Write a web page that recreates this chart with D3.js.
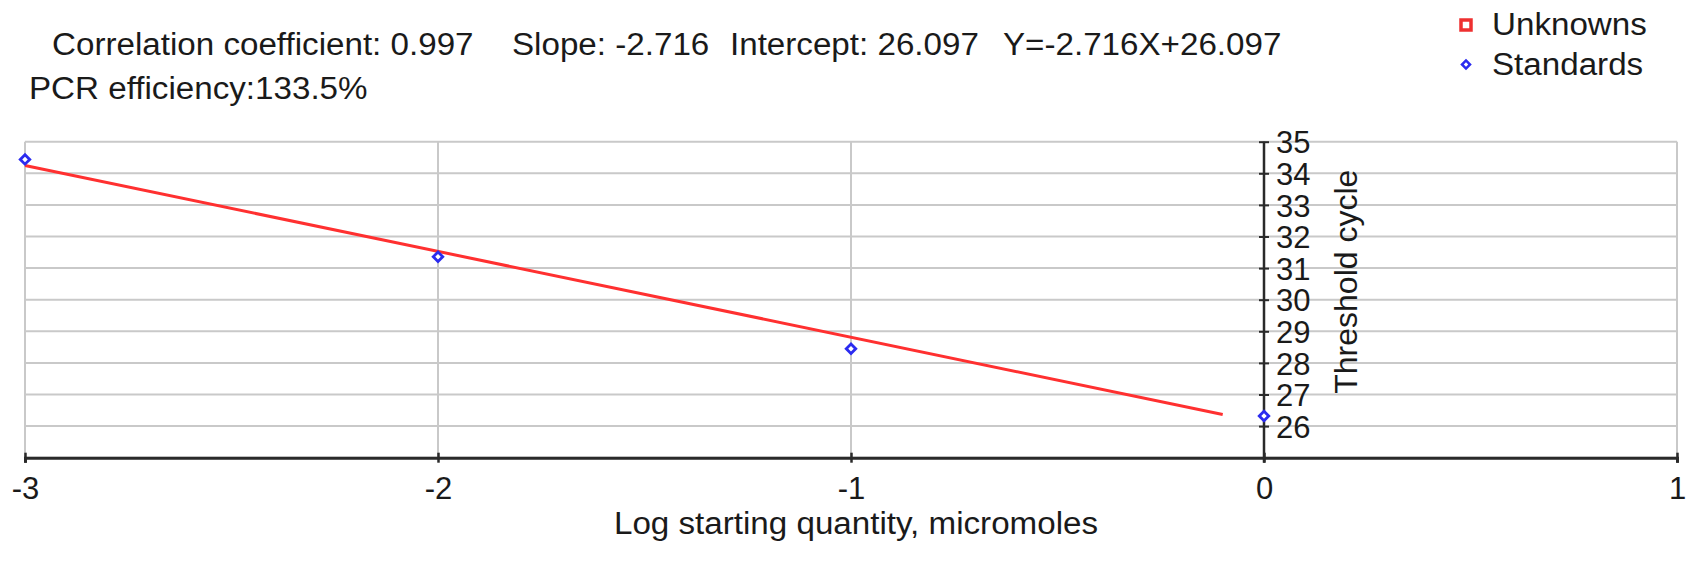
<!DOCTYPE html>
<html>
<head>
<meta charset="utf-8">
<script src="https://cdn.jsdelivr.net/npm/d3@7"></script>
<style>
  html, body { margin: 0; padding: 0; background: #fff; }
  svg { display: block; }
  text { font-family: Arial, "Liberation Sans", Helvetica, sans-serif; fill: #1a1a1a; }
</style>
</head>
<body>
<svg id="chart" width="1692" height="562"></svg>
<script>
// ---- data ----
const stdX = [-3, -2, -1, 0];
const stdY = [34.44, 31.36, 28.45, 26.32];
const slope = -2.716;
const intercept = 26.097;
const fitX = [-3, -0.1];
const xTicks = [-3, -2, -1, 0, 1];
const xTickLabels = ["-3", "-2", "-1", "0", "1"];
const yTicks = [26, 27, 28, 29, 30, 31, 32, 33, 34, 35];
const yGrid = [25, 26, 27, 28, 29, 30, 31, 32, 33, 34, 35];
const statLabels = ["Correlation coefficient: 0.997", "Slope: -2.716", "Intercept: 26.097", "Y=-2.716X+26.097"];
const effLabel = "PCR efficiency:133.5%";
const legendLabels = ["Unknowns", "Standards"];
const xTitle = "Log starting quantity, micromoles";
const yTitle = "Threshold cycle";

// ---- layout ----
const svg = d3.select("#chart");
const x = d3.scaleLinear().domain([-3, 1]).range([25, 1677]);
const y = d3.scaleLinear().domain([25, 35]).range([457.7, 141.7]);

const SX = 1.07; // slight horizontal stretch of text as in the reference
function txt(g, px, py, s, size, anchor) {
  return g.append("text")
    .attr("transform", `translate(${px},${py}) scale(${SX},1)`)
    .attr("text-anchor", anchor || "start")
    .style("font-size", size + "px")
    .text(s);
}

// gridlines
const grid = svg.append("g").attr("stroke", "#c9c9c9").attr("stroke-width", 2);
grid.selectAll("line.h").data(yGrid).join("line").attr("class", "h")
  .attr("x1", x(-3)).attr("x2", x(1))
  .attr("y1", d => y(d)).attr("y2", d => y(d));
grid.selectAll("line.v").data(xTicks).join("line").attr("class", "v")
  .attr("x1", d => x(d)).attr("x2", d => x(d))
  .attr("y1", y(35)).attr("y2", y(25));

// x axis
const xAxis = svg.append("g").attr("transform", `translate(0,${y(25)})`)
  .call(d3.axisBottom(x).tickValues(xTicks).tickFormat((d, i) => xTickLabels[i]).tickSize(5).tickPadding(0));
xAxis.select(".domain").attr("stroke", "#2a2a2a").attr("stroke-width", 3);
xAxis.selectAll(".tick line").attr("y1", -5).attr("y2", 5).attr("stroke", "#2a2a2a").attr("stroke-width", 2.5);
xAxis.selectAll(".tick text").attr("y", 41).attr("dy", null)
  .style("font-size", "31px").attr("fill", "#1a1a1a").style("font-family", "Arial, 'Liberation Sans', sans-serif");

// y axis (at x = 0)
const yAxis = svg.append("g").attr("transform", `translate(${x(0)},0)`)
  .call(d3.axisRight(y).tickValues(yTicks).tickFormat(d => String(d)).tickSize(5).tickPadding(7));
yAxis.select(".domain").attr("d", `M0,${y(35)}V${y(25) + 5}`).attr("stroke", "#2a2a2a").attr("stroke-width", 2.5);
yAxis.selectAll(".tick line").attr("x1", -5).attr("x2", 5).attr("stroke", "#2a2a2a").attr("stroke-width", 2);
yAxis.selectAll(".tick text").attr("dy", "0.36em")
  .style("font-size", "31px").attr("fill", "#1a1a1a").style("font-family", "Arial, 'Liberation Sans', sans-serif");

// fit line
svg.append("path")
  .datum(fitX.map(v => [v, slope * v + intercept]))
  .attr("fill", "none").attr("stroke", "#ff3030").attr("stroke-width", 3)
  .attr("d", d3.line().x(d => x(d[0])).y(d => y(d[1])));

// standards
const diamond = d3.symbol().type(d3.symbolSquare).size(45);
svg.append("g").selectAll("path").data(stdX.map((v, i) => [v, stdY[i]])).join("path")
  .attr("transform", d => `translate(${x(d[0])},${y(d[1])}) rotate(45)`)
  .attr("d", diamond)
  .attr("fill", "#fff").attr("stroke", "#2b2bf0").attr("stroke-width", 2.8);

// axis titles
txt(svg, 856, 534, xTitle, 31, "middle");
svg.append("text")
  .attr("transform", `translate(1357,281.7) rotate(-90)`)
  .attr("text-anchor", "middle")
  .style("font-size", "32px")
  .text(yTitle);

// stats text
const statX = [52, 512, 730, 1003];
statLabels.forEach((s, i) => txt(svg, statX[i], 55, s, 31, "start"));
txt(svg, 29, 99, effLabel, 31, "start");

// legend
const lg = svg.append("g");
lg.append("rect").attr("x", 1461).attr("y", 20).attr("width", 10).attr("height", 10)
  .attr("fill", "#fff").attr("stroke", "#ee3030").attr("stroke-width", 3.5);
lg.append("path").attr("transform", "translate(1466,64.5) rotate(45)")
  .attr("d", d3.symbol().type(d3.symbolSquare).size(32))
  .attr("fill", "#fff").attr("stroke", "#2b2bf0").attr("stroke-width", 2.5);
txt(lg, 1492, 35, legendLabels[0], 31, "start");
txt(lg, 1492, 75, legendLabels[1], 31, "start");
</script>
</body>
</html>
